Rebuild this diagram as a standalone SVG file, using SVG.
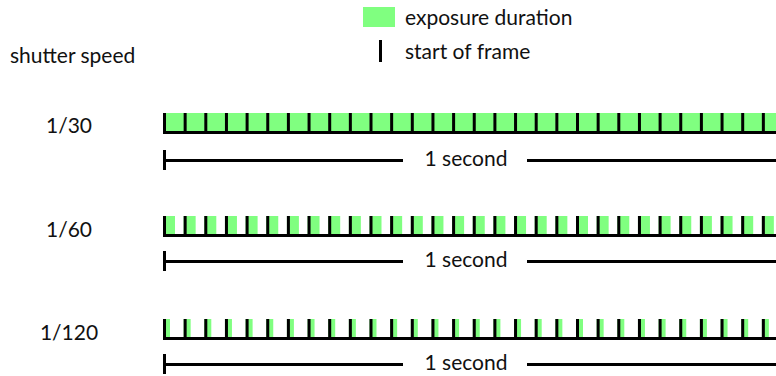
<svg xmlns="http://www.w3.org/2000/svg" width="776" height="376" viewBox="0 0 776 376">
<style>
text{font-family:Lato,"Liberation Sans",sans-serif;font-size:21px;fill:#111}
.g{fill:#80ff80}
.k{fill:#000}
.m{text-anchor:middle}
</style>
<defs>
<g id="f30"><rect class="g" width="21" height="18"/><rect class="k" width="3" height="18"/></g>
<g id="f60"><rect class="g" width="12" height="18"/><rect class="k" width="3" height="18"/></g>
<g id="f120"><rect class="g" width="7" height="18"/><rect class="k" width="3" height="18"/></g>
<g id="sec"><rect class="k" x="163" y="-10.5" width="3" height="20"/><rect class="k" x="163" y="-1.5" width="240" height="3"/><rect class="k" x="527" y="-1.5" width="249" height="3"/><text class="m" x="466" y="5.5">1 second</text></g>
</defs>
<g id="legend">
<rect class="g" x="363" y="7" width="32" height="20"/>
<text x="405" y="25">exposure duration</text>
<rect class="k" x="379" y="40" width="3" height="22"/>
<text x="405" y="59">start of frame</text>
</g>
<text id="axis-title" x="10" y="63">shutter speed</text>
<g id="row-30">
<text class="m" x="69" y="133">1/30</text>
<g transform="translate(0,113)">
<use href="#f30" x="163"/><use href="#f30" x="183.65"/><use href="#f30" x="204.3"/><use href="#f30" x="224.95"/><use href="#f30" x="245.6"/><use href="#f30" x="266.25"/><use href="#f30" x="286.9"/><use href="#f30" x="307.55"/><use href="#f30" x="328.2"/><use href="#f30" x="348.85"/><use href="#f30" x="369.5"/><use href="#f30" x="390.15"/><use href="#f30" x="410.8"/><use href="#f30" x="431.45"/><use href="#f30" x="452.1"/><use href="#f30" x="472.75"/><use href="#f30" x="493.4"/><use href="#f30" x="514.05"/><use href="#f30" x="534.7"/><use href="#f30" x="555.35"/><use href="#f30" x="576"/><use href="#f30" x="596.65"/><use href="#f30" x="617.3"/><use href="#f30" x="637.95"/><use href="#f30" x="658.6"/><use href="#f30" x="679.25"/><use href="#f30" x="699.9"/><use href="#f30" x="720.55"/><use href="#f30" x="741.2"/><use href="#f30" x="761.85"/>
<rect class="k" x="163" y="18" width="613" height="3"/>
</g>
<use href="#sec" y="160.5"/>
</g>
<g id="row-60">
<text class="m" x="69" y="237">1/60</text>
<g transform="translate(0,216)">
<use href="#f60" x="163"/><use href="#f60" x="183.65"/><use href="#f60" x="204.3"/><use href="#f60" x="224.95"/><use href="#f60" x="245.6"/><use href="#f60" x="266.25"/><use href="#f60" x="286.9"/><use href="#f60" x="307.55"/><use href="#f60" x="328.2"/><use href="#f60" x="348.85"/><use href="#f60" x="369.5"/><use href="#f60" x="390.15"/><use href="#f60" x="410.8"/><use href="#f60" x="431.45"/><use href="#f60" x="452.1"/><use href="#f60" x="472.75"/><use href="#f60" x="493.4"/><use href="#f60" x="514.05"/><use href="#f60" x="534.7"/><use href="#f60" x="555.35"/><use href="#f60" x="576"/><use href="#f60" x="596.65"/><use href="#f60" x="617.3"/><use href="#f60" x="637.95"/><use href="#f60" x="658.6"/><use href="#f60" x="679.25"/><use href="#f60" x="699.9"/><use href="#f60" x="720.55"/><use href="#f60" x="741.2"/><use href="#f60" x="761.85"/>
<rect class="k" x="163" y="18" width="613" height="3"/>
</g>
<use href="#sec" y="261.5"/>
</g>
<g id="row-120">
<text class="m" x="69" y="340">1/120</text>
<g transform="translate(0,319)">
<use href="#f120" x="163"/><use href="#f120" x="183.65"/><use href="#f120" x="204.3"/><use href="#f120" x="224.95"/><use href="#f120" x="245.6"/><use href="#f120" x="266.25"/><use href="#f120" x="286.9"/><use href="#f120" x="307.55"/><use href="#f120" x="328.2"/><use href="#f120" x="348.85"/><use href="#f120" x="369.5"/><use href="#f120" x="390.15"/><use href="#f120" x="410.8"/><use href="#f120" x="431.45"/><use href="#f120" x="452.1"/><use href="#f120" x="472.75"/><use href="#f120" x="493.4"/><use href="#f120" x="514.05"/><use href="#f120" x="534.7"/><use href="#f120" x="555.35"/><use href="#f120" x="576"/><use href="#f120" x="596.65"/><use href="#f120" x="617.3"/><use href="#f120" x="637.95"/><use href="#f120" x="658.6"/><use href="#f120" x="679.25"/><use href="#f120" x="699.9"/><use href="#f120" x="720.55"/><use href="#f120" x="741.2"/><use href="#f120" x="761.85"/>
<rect class="k" x="163" y="18" width="613" height="3"/>
</g>
<use href="#sec" y="364.5"/>
</g>
</svg>
